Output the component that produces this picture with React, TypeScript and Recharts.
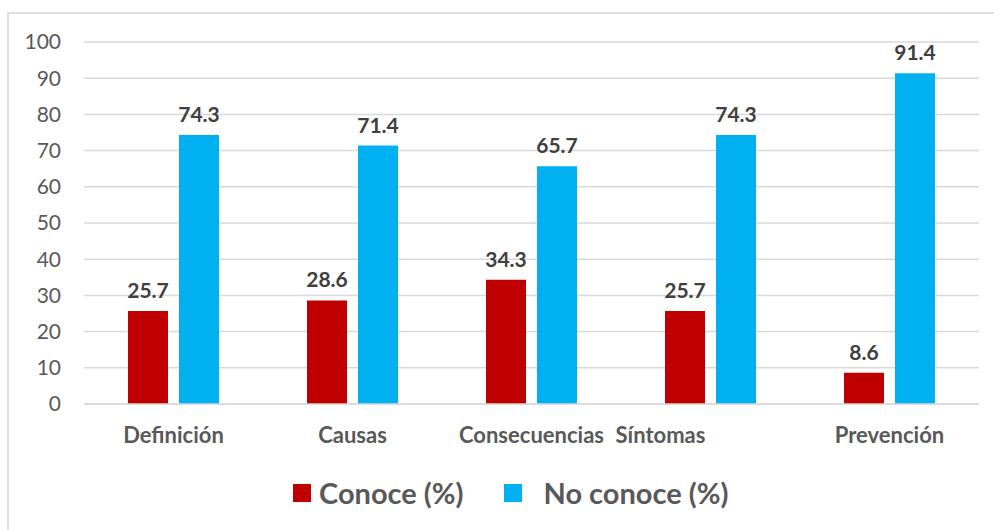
import { BarChart, Bar, XAxis, YAxis, CartesianGrid, Legend, LabelList } from 'recharts'

const categories = ['Definición', 'Causas', 'Consecuencias', 'Síntomas', 'Prevención']
const conoce = [25.7, 28.6, 34.3, 25.7, 8.6]
const noConoce = [74.3, 71.4, 65.7, 74.3, 91.4]
const yTicks = [0, 10, 20, 30, 40, 50, 60, 70, 80, 90, 100]
const seriesNames = ['Conoce (%)', 'No conoce (%)']

const FONT = 'Lato, "Open Sans", sans-serif'
const RED = '#C00000'
const BLUE = '#00B0F0'

// the original "Síntomas" label sits left of its bars
const labelShift: Record<string, number> = { 'Síntomas': -50 }

function CategoryTick(props: any) {
  const { x, y, payload } = props
  const dx = labelShift[payload.value] || 0
  return (
    <text
      x={x + dx}
      y={y}
      dy="0.71em"
      textAnchor="middle"
      fill="#595959"
      fontFamily={FONT}
      fontWeight="bold"
      fontSize={22}
    >
      {payload.value}
    </text>
  )
}

function LegendContent() {
  const colors = [RED, BLUE]
  const gaps = [8, 22]
  return (
    <div style={{ display: 'flex', alignItems: 'center', fontFamily: FONT }}>
      {seriesNames.map((name, i) => (
        <div key={name} style={{ display: 'flex', alignItems: 'center', marginRight: i === 0 ? 40 : 0 }}>
          <span style={{ width: 18, height: 18, background: colors[i], display: 'inline-block', marginRight: gaps[i] }} />
          <span style={{ fontSize: 29, fontWeight: 'bold', color: '#595959' }}>{name}</span>
        </div>
      ))}
    </div>
  )
}

export default function App() {
  const data = categories.map((name, i) => ({
    name,
    conoce: conoce[i],
    noConoce: noConoce[i]
  }))

  return (
    <div style={{ position: 'fixed', left: 0, top: 0, width: 994, height: 530, overflow: 'hidden', background: '#fff' }}>
      <div
        style={{
          position: 'absolute',
          left: 7,
          top: 12,
          width: 1100,
          height: 1100,
          border: '2px solid #e0e0e0'
        }}
      />
      <div style={{ position: 'absolute', left: 0, top: 0 }}>
        <BarChart
          width={994}
          height={530}
          data={data}
          margin={{ top: 42, right: 15, left: 0, bottom: 96 }}
          barSize={40}
          barGap={11}
        >
          <CartesianGrid vertical={false} stroke="#d9d9d9" strokeWidth={1.5} />
          <XAxis
            dataKey="name"
            height={30}
            tickLine={false}
            axisLine={{ stroke: '#d9d9d9', strokeWidth: 1.5 }}
            tickMargin={17}
            tick={<CategoryTick />}
            interval={0}
          />
          <YAxis
            width={84}
            domain={[0, 100]}
            ticks={yTicks}
            tickLine={false}
            axisLine={false}
            tickMargin={17}
            tick={{ fill: '#595959', fontSize: 21, fontFamily: FONT }}
          />
          <Legend
            verticalAlign="middle"
            align="center"
            layout="horizontal"
            wrapperStyle={{ top: 475, left: 293, width: 'auto' }}
            content={<LegendContent />}
          />
          <Bar dataKey="conoce" name={seriesNames[0]} fill={RED} isAnimationActive={false}>
            <LabelList
              dataKey="conoce"
              position="top"
              offset={13}
              fill="#404040"
              fontFamily={FONT}
              fontWeight="bold"
              fontSize={21}
            />
          </Bar>
          <Bar dataKey="noConoce" name={seriesNames[1]} fill={BLUE} isAnimationActive={false}>
            <LabelList
              dataKey="noConoce"
              position="top"
              offset={13}
              fill="#404040"
              fontFamily={FONT}
              fontWeight="bold"
              fontSize={21}
            />
          </Bar>
        </BarChart>
      </div>
    </div>
  )
}
